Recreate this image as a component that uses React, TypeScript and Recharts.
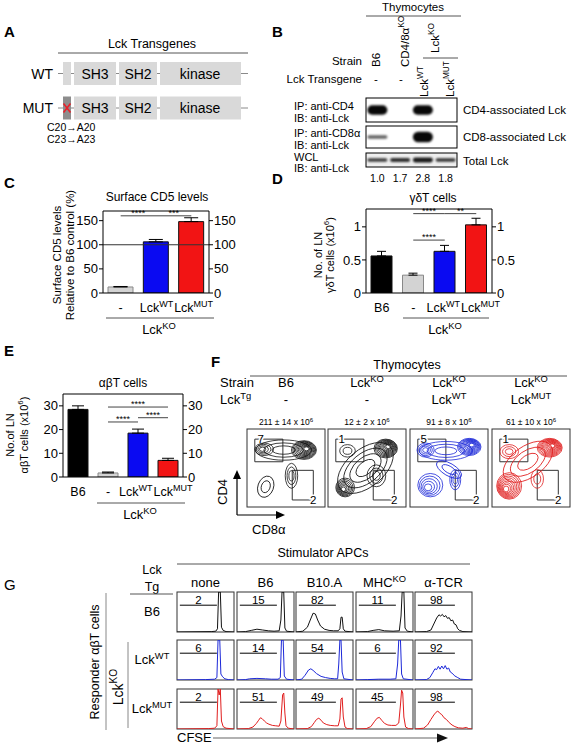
import React from 'react';
import {
  ComposedChart, Bar, XAxis, YAxis, ErrorBar, ReferenceLine, Cell,
  LineChart, Line, ScatterChart, Scatter, ReferenceArea,
} from 'recharts';

const FONT = "'Liberation Sans', Arial, Helvetica, sans-serif";

// ---------------- Panel B : western blot ----------------
const blotLanes = ['B6', 'CD4/8αKO', 'LckWT', 'LckMUT'];
const cd4IpBands = [0.95, 0, 0.95, 0];
const cd8IpBands = [0.3, 0, 0.95, 0];
const wclBands = [0.55, 0.65, 0.8, 0.6];
const wclQuant = ['1.0', '1.7', '2.8', '1.8'];

// ---------------- Panel C : surface CD5 ----------------
const cd5Cats = ['-', 'LckWT', 'LckMUT'];
const cd5Mean = [12.5, 106, 148];
const cd5Sem = [1, 5, 8];
const cd5Ticks = [0, 50, 100, 150];
const cd5Sig = [
  { from: '-', to: 'LckWT', y: 160, label: '****' },
  { from: 'LckWT', to: 'LckMUT', y: 160, label: '***' },
];

// ---------------- Panel D : gamma-delta T cells ----------------
const gdCats = ['B6', '-', 'LckWT', 'LckMUT'];
const gdMean = [0.56, 0.27, 0.63, 1.03];
const gdSem = [0.07, 0.03, 0.09, 0.1];
const gdTicks = [0, 0.5, 1];
const gdSig = [
  { from: '-', to: 'LckWT', y: 1.2, label: '****' },
  { from: 'LckWT', to: 'LckMUT', y: 1.2, label: '**' },
  { from: '-', to: 'LckWT', y: 0.8, label: '****' },
];

// ---------------- Panel E : alpha-beta T cells ----------------
const abCats = ['B6', '-', 'LckWT', 'LckMUT'];
const abMean = [28.5, 1.7, 18.5, 7];
const abSem = [1.5, 0.4, 1.7, 0.9];
const abTicks = [0, 10, 20, 30];
const abSig = [
  { from: '-', to: 'LckMUT', y: 29.5, label: '****' },
  { from: '-', to: 'LckWT', y: 23.2, label: '****' },
  { from: 'LckWT', to: 'LckMUT', y: 25, label: '****' },
];

// ---------------- Panel F : thymocyte contour plots ----------------
const fStrains = ['B6', 'Lck^{KO}', 'Lck^{KO}', 'Lck^{KO}'];
const fTransgenes = ['-', '-', 'Lck^{WT}', 'Lck^{MUT}'];
const fCounts = ['211 ± 14', '12 ± 2', '91 ± 8', '61 ± 10'];
const fCd4Pct = ['7', '1', '5', '1'];
const fCd8Pct = ['2', '2', '2', '2'];
const cd4Gate = [10, 46, 58, 87];
const cd8Gate = [58, 85, 9, 47];
// populations: centre (CD8 x, CD4 y), radii, ring count, rotation, peak shift
const contB6 = [
  { x: 47, y: 73, rx: 36, ry: 13, n: 3, rot: 0, px: 0, py: 0 },
  { x: 73, y: 73, rx: 16, ry: 12, n: 10, rot: 0, px: 4, py: 2 },
  { x: 22, y: 74, rx: 12, ry: 8, n: 4, rot: 0, px: -3, py: 0 },
  { x: 57, y: 40, rx: 8, ry: 16, n: 3, rot: 0, px: 0, py: 0 },
  { x: 24, y: 26, rx: 10, ry: 14, n: 2, rot: -20, px: 0, py: 0 },
];
const contKO = [
  { x: 48, y: 50, rx: 42, ry: 24, n: 4, rot: 40, px: 0, py: 0 },
  { x: 74, y: 75, rx: 15, ry: 12, n: 10, rot: 0, px: 4, py: 3 },
  { x: 22, y: 25, rx: 12, ry: 12, n: 7, rot: 0, px: -3, py: -3 },
  { x: 62, y: 40, rx: 12, ry: 14, n: 3, rot: 0, px: 0, py: 0 },
  { x: 25, y: 72, rx: 10, ry: 8, n: 2, rot: 0, px: 0, py: 0 },
];
const contWT = [
  { x: 46, y: 72, rx: 34, ry: 12, n: 3, rot: 0, px: 0, py: 0 },
  { x: 76, y: 77, rx: 15, ry: 11, n: 10, rot: 0, px: 4, py: 3 },
  { x: 20, y: 73, rx: 11, ry: 9, n: 4, rot: 0, px: 0, py: 0 },
  { x: 50, y: 48, rx: 18, ry: 8, n: 2, rot: -30, px: 0, py: 0 },
  { x: 26, y: 28, rx: 16, ry: 15, n: 5, rot: 0, px: -4, py: -4 },
  { x: 58, y: 35, rx: 7, ry: 13, n: 3, rot: 0, px: 0, py: 0 },
];
const contMUT = [
  { x: 46, y: 58, rx: 36, ry: 20, n: 3, rot: 35, px: 0, py: 0 },
  { x: 74, y: 76, rx: 16, ry: 12, n: 11, rot: 0, px: 4, py: 3 },
  { x: 22, y: 71, rx: 12, ry: 9, n: 3, rot: 0, px: 0, py: 0 },
  { x: 22, y: 27, rx: 16, ry: 17, n: 9, rot: 0, px: -5, py: -5 },
  { x: 58, y: 36, rx: 8, ry: 12, n: 2, rot: 0, px: 0, py: 0 },
];

// ---------------- Panel G : CFSE histograms ----------------
const gCols = ['none', 'B6', 'B10.A', 'MHC^{KO}', 'α-TCR'];
const gRows = ['B6', 'Lck^{WT}', 'Lck^{MUT}'];
const pctB6 = [2, 15, 82, 11, 98];
const pctWT = [6, 14, 54, 6, 92];
const pctMUT = [2, 51, 49, 45, 98];
const gateLevel = 67;

const hB6None = [[0,0],[60,1],[68,2],[71,8],[73,100],[76,100],[78,12],[81,4],[86,1],[100,0]];
const hB6B6 = [[0,0],[15,1],[25,4],[35,7],[45,5],[55,3],[65,2],[74,3],[77,30],[79,100],[82,100],[84,10],[87,2],[100,0]];
const hB6B10 = [[0,0],[12,2],[20,12],[25,30],[30,47],[34,45],[38,30],[43,15],[50,7],[58,4],[66,3],[74,3],[77,8],[79,37],[81,37],[83,8],[86,2],[100,0]];
const hB6Mhc = [[0,0],[20,1],[30,4],[40,6],[50,3],[65,2],[76,3],[79,40],[81,100],[84,100],[86,10],[90,2],[100,0]];
const hB6Tcr = [[0,0],[20,1],[28,5],[33,20],[38,35],[42,43],[45,40],[48,44],[51,38],[54,41],[57,34],[60,36],[63,28],[66,30],[69,20],[72,18],[75,8],[78,4],[84,1],[100,0]];

const hWTNone = [[0,0],[50,1],[66,2],[70,6],[72,100],[75,100],[77,15],[80,8],[84,3],[90,1],[100,0]];
const hWTB6 = [[0,0],[15,1],[22,3],[35,4],[50,3],[60,2],[72,2],[76,6],[78,100],[81,100],[83,10],[87,2],[100,0]];
const hWTB10 = [[0,0],[10,2],[16,12],[22,25],[26,28],[30,24],[36,16],[44,9],[52,6],[60,4],[68,3],[73,3],[75,40],[77,100],[79,100],[81,20],[84,3],[100,0]];
const hWTMhc = [[0,0],[20,1],[40,2],[60,2],[70,3],[73,40],[75,100],[78,100],[80,15],[83,3],[100,0]];
const hWTTcr = [[0,0],[20,1],[26,6],[31,18],[35,28],[38,26],[41,34],[44,27],[47,35],[50,28],[53,36],[56,27],[59,30],[62,20],[65,17],[70,10],[75,6],[80,2],[100,0]];

const hMUTNone = [[0,0],[55,1],[66,2],[70,8],[72,100],[74,85],[76,100],[78,20],[81,6],[86,2],[100,0]];
const hMUTB6 = [[0,0],[20,1],[28,5],[34,14],[38,22],[41,28],[44,26],[48,20],[52,15],[56,12],[62,9],[68,8],[74,7],[77,20],[80,85],[82,90],[84,40],[86,8],[90,2],[100,0]];
const hMUTB10 = [[0,0],[20,1],[27,6],[32,16],[36,24],[40,27],[44,22],[48,15],[54,11],[60,9],[68,8],[74,8],[77,25],[79,75],[81,78],[83,30],[86,5],[90,1],[100,0]];
const hMUTMhc = [[0,0],[18,1],[26,6],[32,18],[37,27],[41,29],[45,22],[50,14],[56,10],[62,9],[70,9],[75,15],[78,60],[80,97],[82,90],[84,30],[87,5],[92,1],[100,0]];
const hMUTTcr = [[0,0],[15,2],[22,10],[28,24],[33,35],[37,42],[40,45],[43,40],[47,36],[51,28],[55,24],[60,16],[65,10],[70,6],[76,3],[84,2],[90,4],[94,1],[100,0]];

// ---------------- styles ----------------
const BLACK = '#000000';
const GREY = '#d3d3d3';
const BLUE = '#0a0af2';
const RED = '#f21414';
const F_COLORS = ['#111111', '#111111', '#1c28d8', '#e01e1e'];
const G_COLORS = ['#111111', '#1c28d8', '#e01e1e'];

// ---------------- helpers ----------------
function rich(s: string, size: number) {
  const parts = s.split(/\^\{([^}]*)\}/);
  let raised = false;
  const out: any[] = [];
  parts.forEach((p, i) => {
    const sup = i % 2 === 1;
    if (!p) return;
    let dy: number | undefined;
    if (sup && !raised) { dy = -0.4 * size; raised = true; }
    else if (!sup && raised) { dy = 0.4 * size; raised = false; }
    out.push(<tspan key={i} dy={dy} fontSize={sup ? size * 0.72 : size}>{p}</tspan>);
  });
  return out;
}

function T({ x, y, s, size = 12, anchor = 'start', bold = false, rot = false, fill = '#000' }: any) {
  if (rot) {
    return (
      <text transform={`translate(${x},${y}) rotate(-90)`} x={0} y={size * 0.35} fontSize={size}
        textAnchor={anchor} fill={fill} fontWeight={bold ? 'bold' : 'normal'}>{rich(s, size)}</text>
    );
  }
  return (
    <text x={x} y={y} fontSize={size} textAnchor={anchor} fill={fill} fontWeight={bold ? 'bold' : 'normal'}>{rich(s, size)}</text>
  );
}

const catText = (c: string) => (c === 'LckWT' ? 'Lck^{WT}' : c === 'LckMUT' ? 'Lck^{MUT}' : c);

function CatTick(props: any) {
  const { x, y, payload, half } = props;
  const v = payload.value;
  // the two transgene labels meet at the boundary between their bands
  const anchor = v === 'LckWT' ? 'end' : v === 'LckMUT' ? 'start' : 'middle';
  const tx = v === 'LckWT' ? x + half - 0.5 : v === 'LckMUT' ? x - half + 0.5 : x;
  return (
    <text x={tx} y={y + 19} textAnchor={anchor} fontSize={12.5} fill="#000">{rich(catText(v), 12.5)}</text>
  );
}

function BarPanel({ x, y, w, h, cats, mean, sem, colors, domain, ticks, barSize, capW, sig, hLine }: any) {
  const yw = 34;
  const top = 6;
  const xh = 24;
  const half = w / cats.length / 2;
  const data = cats.map((c: string, i: number) => ({ cat: c, v: mean[i], e: [0, sem[i]] }));
  const yProps = {
    type: 'number' as const, domain, ticks, interval: 0 as const, tickSize: 4, tickMargin: 1, width: yw,
    allowDataOverflow: true,
    tick: { fill: '#000', fontSize: 13 }, tickLine: { stroke: '#000' }, axisLine: { stroke: '#000' },
  };
  return (
    <div style={{ position: 'absolute', left: x - yw, top: y - top }}>
      <ComposedChart width={w + 2 * yw} height={h + top + xh} data={data}
        margin={{ top, right: 0, bottom: 0, left: 0 }} barSize={barSize}>
        <XAxis dataKey="cat" height={xh} tickSize={0} tickMargin={0} tickLine={false}
          axisLine={{ stroke: '#000' }} tick={(p: any) => <CatTick {...p} half={half} />} interval={0} />
        <YAxis {...yProps} />
        <YAxis yAxisId="r" orientation="right" {...yProps} />
        <ReferenceLine y={domain[1]} stroke="#000" />
        {hLine != null && <ReferenceLine y={hLine} stroke="#333" />}
        {sig.map((s: any, i: number) => (
          <ReferenceLine key={i} segment={[{ x: s.from, y: s.y }, { x: s.to, y: s.y }]} stroke="#444"
            ifOverflow="visible"
            label={{ value: s.label, position: 'top', fontSize: 9, fill: '#000', offset: 0 }} />
        ))}
        <Bar dataKey="v" isAnimationActive={false} strokeWidth={1}>
          {data.map((d: any, i: number) => (
            <Cell key={i} fill={colors[i]} stroke={colors[i] === GREY ? '#888' : '#111'} />
          ))}
          <ErrorBar dataKey="e" width={capW} stroke="#000" strokeWidth={1} direction="y" isAnimationActive={false} />
        </Bar>
        <Line yAxisId="r" dataKey="v" stroke="none" dot={false} activeDot={false} legendType="none"
          isAnimationActive={false} />
      </ComposedChart>
    </div>
  );
}

function BandShape(props: any) {
  const { cx, cy, payload, maxH } = props;
  const v = payload.v;
  if (!v) return <g />;
  const hh = Math.max(2, maxH * v);
  const ww = 20;
  return (
    <rect x={cx - ww / 2} y={cy - hh / 2} width={ww} height={hh} rx={hh / 2}
      fill="#000" fillOpacity={0.45 + 0.55 * v} filter="url(#blotBlur)" />
  );
}

function BlotStrip({ x, y, w, h, bands, maxH }: any) {
  const data = bands.map((v: number, i: number) => ({ lane: i, y: 0.5, v }));
  return (
    <div style={{ position: 'absolute', left: x, top: y }}>
      <ScatterChart width={w} height={h} margin={{ top: 0, right: 0, bottom: 0, left: 0 }}>
        <XAxis type="number" dataKey="lane" domain={[-0.5, bands.length - 0.5]} hide />
        <YAxis type="number" dataKey="y" domain={[0, 1]} hide />
        <Scatter data={data} isAnimationActive={false} shape={(p: any) => <BandShape {...p} maxH={maxH} />} />
      </ScatterChart>
    </div>
  );
}

function ContourShape(props: any) {
  const { cx, cy, payload, k, color } = props;
  const { rx, ry, n, rot, px, py } = payload;
  const rings: any[] = [];
  for (let i = 0; i < n; i++) {
    const f = 1 - (i / n) * 0.88;
    rings.push(
      <ellipse key={i} cx={cx + px * (1 - f) * k} cy={cy - py * (1 - f) * k}
        rx={rx * f * k} ry={ry * f * k} fill="none" stroke={color} strokeWidth={0.8} />,
    );
  }
  return <g transform={`rotate(${-rot} ${cx} ${cy})`}>{rings}</g>;
}

function GateLabel(props: any) {
  const { viewBox, text, corner } = props;
  const { x, y, width, height } = viewBox;
  const tx = corner === 'tl' ? x + 6 : x + width;
  const ty = corner === 'tl' ? y : y + height;
  return (
    <text x={tx} y={ty + 4} fontSize={11.5} textAnchor="middle" fill="#000"
      stroke="#fff" strokeWidth={3} paintOrder="stroke">{text}</text>
  );
}

function ContourPanel({ x, y, size, pops, color, cd4Pct, cd8Pct }: any) {
  const k = size / 100;
  return (
    <div style={{ position: 'absolute', left: x, top: y, width: size, height: size, overflow: 'hidden' }}>
      <ScatterChart width={size} height={size} margin={{ top: 0, right: 0, bottom: 0, left: 0 }}>
        <XAxis type="number" dataKey="x" domain={[0, 100]} hide />
        <YAxis type="number" dataKey="y" domain={[0, 100]} hide />
        <Scatter data={pops} isAnimationActive={false}
          shape={(p: any) => <ContourShape {...p} k={k} color={color} />} />
        <ReferenceArea x1={cd4Gate[0]} x2={cd4Gate[1]} y1={cd4Gate[2]} y2={cd4Gate[3]}
          fill="none" stroke="#333" strokeWidth={1} ifOverflow="visible"
          label={<GateLabel text={cd4Pct} corner="tl" />} />
        <ReferenceArea x1={cd8Gate[0]} x2={cd8Gate[1]} y1={cd8Gate[2]} y2={cd8Gate[3]}
          fill="none" stroke="#333" strokeWidth={1} ifOverflow="visible"
          label={<GateLabel text={cd8Pct} corner="br" />} />
      </ScatterChart>
    </div>
  );
}

function HistCell({ x, y, w, h, pts, color, pct }: any) {
  const data = pts.map((p: number[]) => ({ x: p[0], y: p[1] }));
  return (
    <div style={{ position: 'absolute', left: x, top: y }}>
      <LineChart width={w} height={h} data={data} margin={{ top: 0, right: 0, bottom: 0, left: 0 }}>
        <XAxis type="number" dataKey="x" domain={[0, 100]} hide />
        <YAxis type="number" domain={[0, 100]} hide allowDataOverflow />
        <ReferenceLine segment={[{ x: 5, y: gateLevel }, { x: 70, y: gateLevel }]} stroke="#000"
          label={{ value: String(pct), position: 'top', fontSize: 11.5, fill: '#000', offset: 1 }} />
        <Line dataKey="y" type="linear" stroke={color} strokeWidth={1} dot={false} isAnimationActive={false} />
      </LineChart>
    </div>
  );
}

// ---------------- layout constants ----------------
const F_X = [247, 328, 410, 492];
const F_Y = 429;
const F_S = 78;
const G_X = [177, 237, 296, 356, 415];
const G_Y = [592, 640, 689];
const G_W = 57;
const G_H = 40;
const BLOT = { x: 366, w: 91, rows: [[98, 24], [126, 22], [153, 14]] };

const histGrid = [
  [hB6None, hB6B6, hB6B10, hB6Mhc, hB6Tcr],
  [hWTNone, hWTB6, hWTB10, hWTMhc, hWTTcr],
  [hMUTNone, hMUTB6, hMUTB10, hMUTMhc, hMUTTcr],
];
const pctGrid = [pctB6, pctWT, pctMUT];
const contGrid = [contB6, contKO, contWT, contMUT];

function Overlay() {
  const laneX = (i: number) => BLOT.x + (i + 0.5) * BLOT.w / blotLanes.length;
  const domainRow = (cy: number, label: string, mut: boolean) => (
    <g>
      <line x1={58} x2={248} y1={cy} y2={cy} stroke="#8a8a8a" strokeWidth={1} />
      <T x={53} y={cy + 5} s={label} size={14} anchor="end" />
      <rect x={63} y={cy - 11.5} width={8} height={23} fill={mut ? '#8d8d8d' : '#d9d9d9'} />
      <rect x={74} y={cy - 11.5} width={42} height={23} fill="#d9d9d9" />
      <rect x={119} y={cy - 11.5} width={38} height={23} fill="#d9d9d9" />
      <rect x={160} y={cy - 11.5} width={81} height={23} fill="#d9d9d9" />
      <T x={95} y={cy + 5} s="SH3" size={14} anchor="middle" />
      <T x={138} y={cy + 5} s="SH2" size={14} anchor="middle" />
      <T x={200} y={cy + 5} s="kinase" size={14} anchor="middle" />
      {mut && (
        <g stroke="#e8202a" strokeWidth={1.6}>
          <line x1={63.5} y1={cy - 4.5} x2={70.5} y2={cy + 4.5} />
          <line x1={70.5} y1={cy - 4.5} x2={63.5} y2={cy + 4.5} />
        </g>
      )}
    </g>
  );
  return (
    <svg width={572} height={750} style={{ position: 'absolute', left: 0, top: 0 }}>
      <defs>
        <filter id="blotBlur" x="-30%" y="-80%" width="160%" height="260%">
          <feGaussianBlur stdDeviation="0.9" />
        </filter>
      </defs>
      {/* ---------- A ---------- */}
      <T x={4} y={37} s="A" size={15} bold />
      <T x={152} y={48} s="Lck Transgenes" size={12.5} anchor="middle" />
      <line x1={58} x2={248} y1={53} y2={53} stroke="#555" />
      {domainRow(73.5, 'WT', false)}
      {domainRow(108, 'MUT', true)}
      <T x={47} y={131} s="C20→A20" size={10.5} />
      <T x={47} y={143} s="C23→A23" size={10.5} />

      {/* ---------- B ---------- */}
      <T x={272} y={37} s="B" size={15} bold />
      <T x={413} y={11} s="Thymocytes" size={11.5} anchor="middle" />
      <line x1={366} x2={461} y1={16} y2={16} stroke="#555" />
      <T x={376} y={67} s="B6" size={11.5} rot />
      <T x={405} y={67} s="CD4/8α^{KO}" size={11.5} rot />
      <T x={435} y={53} s="Lck^{KO}" size={11.5} rot />
      <line x1={423} x2={458} y1={58} y2={58} stroke="#555" />
      <T x={424} y={97} s="Lck^{WT}" size={11.5} rot />
      <T x={450} y={97} s="Lck^{MUT}" size={11.5} rot />
      <T x={362} y={65} s="Strain" size={11.5} anchor="end" />
      <T x={362} y={83} s="Lck Transgene" size={11.5} anchor="end" />
      <T x={376} y={83} s="-" size={11.5} anchor="middle" />
      <T x={401} y={83} s="-" size={11.5} anchor="middle" />
      {BLOT.rows.map(([yy, hh], i) => (
        <rect key={i} x={BLOT.x} y={yy} width={BLOT.w} height={hh} fill={i === 2 ? '#efefef' : '#fff'} stroke="#000" />
      ))}
      <T x={294} y={110} s="IP: anti-CD4" size={11} />
      <T x={294} y={122} s="IB: anti-Lck" size={11} />
      <T x={294} y={137} s="IP: anti-CD8α" size={11} />
      <T x={294} y={149} s="IB: anti-Lck" size={11} />
      <T x={294} y={161} s="WCL" size={11} />
      <T x={294} y={172} s="IB: anti-Lck" size={11} />
      <T x={463} y={114} s="CD4-associated Lck" size={11.5} />
      <T x={463} y={141} s="CD8-associated Lck" size={11.5} />
      <T x={463} y={165} s="Total Lck" size={11.5} />
      {wclQuant.map((q, i) => (
        <T key={i} x={laneX(i)} y={182} s={q} size={10.5} anchor="middle" />
      ))}

      {/* ---------- C ---------- */}
      <T x={4} y={188} s="C" size={15} bold />
      <T x={157} y={201} s="Surface CD5 levels" size={12} anchor="middle" />
      <T x={57} y={255} s="Surface CD5 levels" size={11.5} anchor="middle" rot />
      <T x={70} y={255} s="Relative to B6 control (%)" size={11.5} anchor="middle" rot />
      <line x1={106} x2={214} y1={318} y2={318} stroke="#555" />
      <T x={159} y={334} s="Lck^{KO}" size={13} anchor="middle" />

      {/* ---------- D ---------- */}
      <T x={272} y={184} s="D" size={15} bold />
      <T x={433} y={202} s="γδT cells" size={12} anchor="middle" />
      <T x={318} y={255} s="No. of LN" size={11} anchor="middle" rot />
      <T x={330} y={255} s="γδT cells (x10^{6})" size={11} anchor="middle" rot />
      <line x1={403} x2={489} y1={318} y2={318} stroke="#555" />
      <T x={445} y={334} s="Lck^{KO}" size={13} anchor="middle" />

      {/* ---------- E ---------- */}
      <T x={4} y={356} s="E" size={15} bold />
      <T x={123} y={387} s="αβT cells" size={12} anchor="middle" />
      <T x={10} y={435} s="No.of LN" size={11} anchor="middle" rot />
      <T x={24} y={435} s="αβT cells (x10^{6})" size={11} anchor="middle" rot />
      <line x1={97} x2={185} y1={503} y2={503} stroke="#555" />
      <T x={140} y={519} s="Lck^{KO}" size={13} anchor="middle" />

      {/* ---------- F ---------- */}
      <T x={211} y={367} s="F" size={15} bold />
      <T x={407} y={369} s="Thymocytes" size={12.5} anchor="middle" />
      <line x1={250} x2={567} y1={376} y2={376} stroke="#555" />
      <T x={220} y={387} s="Strain" size={13} />
      <T x={220} y={404} s="Lck^{Tg}" size={13} />
      {F_X.map((fx, i) => (
        <g key={i}>
          <T x={fx + F_S / 2 + 0} y={387} s={fStrains[i]} size={13} anchor="middle" />
          <T x={fx + F_S / 2 + 0} y={404} s={fTransgenes[i]} size={13} anchor="middle" />
          <T x={fx + F_S / 2} y={425} s={`${fCounts[i]} x 10^{6}`} size={8.5} anchor="middle" />
          <rect x={fx} y={F_Y} width={F_S} height={F_S} fill="#fff" stroke="#333" />
        </g>
      ))}
      <line x1={237} y1={515} x2={237} y2={478} stroke="#000" strokeWidth={1.2} />
      <polygon points="233,479 241,479 237,470" fill="#000" />
      <line x1={237} y1={515} x2={277} y2={515} stroke="#000" strokeWidth={1.2} />
      <polygon points="276,511 276,519 285,515" fill="#000" />
      <T x={222} y={492} s="CD4" size={13} anchor="middle" rot />
      <T x={252} y={534} s="CD8α" size={13} />

      {/* ---------- G ---------- */}
      <T x={4} y={590} s="G" size={15} />
      <T x={323} y={557} s="Stimulator APCs" size={12.5} anchor="middle" />
      <line x1={177} x2={470} y1={564} y2={564} stroke="#555" />
      <T x={152} y={574} s="Lck" size={12.5} anchor="middle" />
      <T x={152} y={591} s="Tg" size={12.5} anchor="middle" />
      <line x1={130} x2={173} y1={594} y2={594} stroke="#555" />
      {gCols.map((c, i) => (
        <T key={i} x={G_X[i] + G_W / 2} y={587} s={c} size={13} anchor="middle" />
      ))}
      {gRows.map((r, j) => (
        <T key={j} x={152} y={G_Y[j] + 24} s={r} size={13} anchor="middle" />
      ))}
      {G_Y.map((gy, j) => G_X.map((gx, i) => (
        <rect key={`${j}-${i}`} x={gx} y={gy} width={G_W} height={G_H} fill="#fff" stroke="#333" />
      )))}
      <T x={118} y={687} s="Lck^{KO}" size={14} anchor="middle" rot />
      <line x1={128} x2={128} y1={642} y2={728} stroke="#888" />
      <T x={95} y={662} s="Responder αβT cells" size={12.5} anchor="middle" rot />
      <line x1={106} x2={106} y1={593} y2={730} stroke="#888" />
      <T x={177} y={742} s="CFSE" size={13} />
      <line x1={213} x2={440} y1={738} y2={738} stroke="#999" strokeWidth={1.5} />
      <polygon points="437,733.5 437,742.5 448,738" fill="#111" />
    </svg>
  );
}

export default function App() {
  return (
    <div style={{ position: 'absolute', left: 0, top: 0, width: 572, height: 750, background: '#fff', fontFamily: FONT, overflow: 'hidden' }}>
      <Overlay />
      {/* B : blot bands */}
      <BlotStrip x={BLOT.x} y={BLOT.rows[0][0]} w={BLOT.w} h={BLOT.rows[0][1]} bands={cd4IpBands} maxH={10} />
      <BlotStrip x={BLOT.x} y={BLOT.rows[1][0]} w={BLOT.w} h={BLOT.rows[1][1]} bands={cd8IpBands} maxH={11} />
      <BlotStrip x={BLOT.x} y={BLOT.rows[2][0]} w={BLOT.w} h={BLOT.rows[2][1]} bands={wclBands} maxH={6} />
      {/* C */}
      <BarPanel x={103} y={211} w={106} h={82} cats={cd5Cats} mean={cd5Mean} sem={cd5Sem}
        colors={[GREY, BLUE, RED]} domain={[0, 170]} ticks={cd5Ticks} barSize={25} capW={7} sig={cd5Sig} hLine={100} />
      {/* D */}
      <BarPanel x={366} y={209} w={126} h={84} cats={gdCats} mean={gdMean} sem={gdSem}
        colors={[BLACK, GREY, BLUE, RED]} domain={[0, 1.27]} ticks={gdTicks} barSize={21} capW={4.5} sig={gdSig} />
      {/* E */}
      <BarPanel x={63} y={394} w={120} h={83} cats={abCats} mean={abMean} sem={abSem}
        colors={[BLACK, GREY, BLUE, RED]} domain={[0, 35]} ticks={abTicks} barSize={20} capW={6} sig={abSig} />
      {/* F */}
      {F_X.map((fx, i) => (
        <ContourPanel key={i} x={fx} y={F_Y} size={F_S} pops={contGrid[i]} color={F_COLORS[i]}
          cd4Pct={fCd4Pct[i]} cd8Pct={fCd8Pct[i]} />
      ))}
      {/* G */}
      {G_Y.map((gy, j) => G_X.map((gx, i) => (
        <HistCell key={`${j}-${i}`} x={gx} y={gy} w={G_W} h={G_H} pts={histGrid[j][i]}
          color={G_COLORS[j]} pct={pctGrid[j][i]} />
      )))}
    </div>
  );
}
